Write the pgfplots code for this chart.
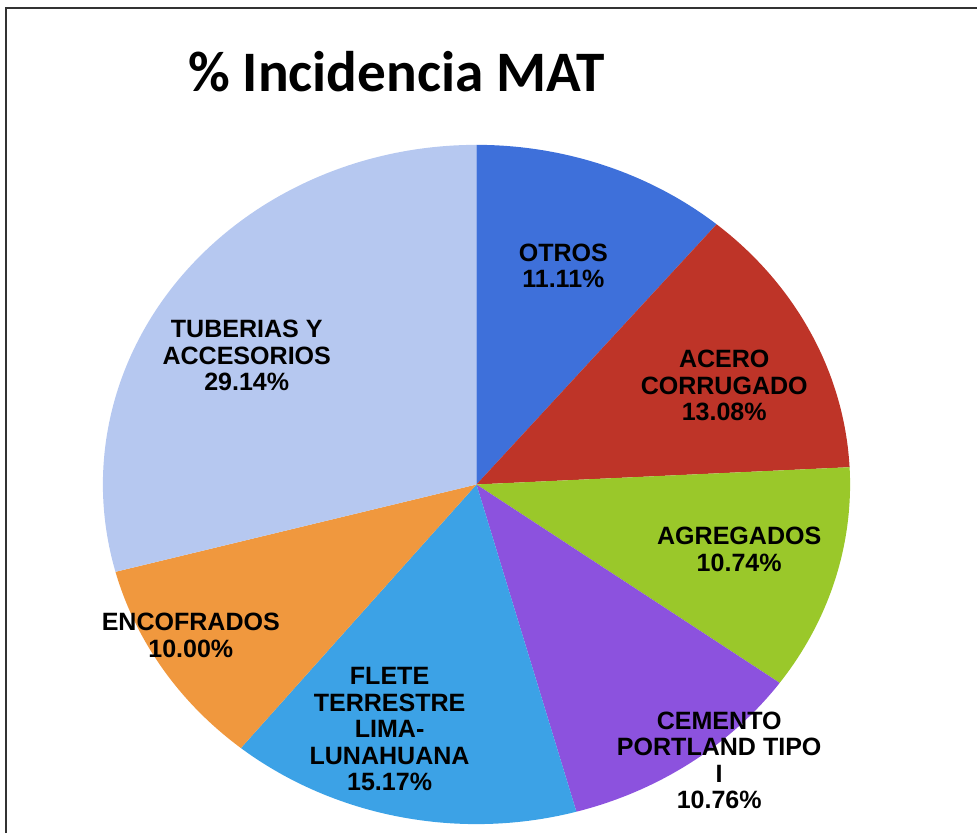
\documentclass[border=0pt]{standalone}
\usepackage{pgfplots}
\pgfplotsset{compat=1.18}
\usepackage{fontspec}
\setmainfont{Liberation Sans}
\newfontfamily\titlefont{Carlito}
\definecolor{cOtros}{RGB}{62,112,218}
\definecolor{cAcero}{RGB}{190,52,40}
\definecolor{cAgreg}{RGB}{154,200,42}
\definecolor{cCem}{RGB}{140,82,222}
\definecolor{cFlete}{RGB}{60,162,230}
\definecolor{cEnco}{RGB}{240,152,62}
\definecolor{cTub}{RGB}{182,200,240}
\definecolor{frame}{RGB}{50,50,50}
\tikzset{lbl/.style={font=\bfseries\fontsize{18.8}{19.9}\selectfont, align=center, inner sep=0pt, text=black}}
% percentages
\def\pOtros{11.11}
\def\pAcero{13.08}
\def\pAgreg{10.74}
\def\pCem{10.76}
\def\pFlete{15.17}
\def\pEnco{10.00}
\def\pTub{29.14}
\pgfmathsetmacro\aA{90}
\pgfmathsetmacro\aB{\aA-3.6*\pOtros}
\pgfmathsetmacro\aC{\aB-3.6*\pAcero}
\pgfmathsetmacro\aD{\aC-3.6*\pAgreg}
\pgfmathsetmacro\aE{\aD-3.6*\pCem}
\pgfmathsetmacro\aF{\aE-3.6*\pFlete}
\pgfmathsetmacro\aG{\aF-3.6*\pEnco}
\pgfmathsetmacro\aH{\aG-3.6*\pTub}
\begin{document}
\begin{tikzpicture}
\begin{axis}[
  scale only axis, width=733.5pt, height=625.5pt,
  xmin=0, xmax=978, ymin=0, ymax=834, y dir=reverse,
  hide axis, clip=false,
]
\path (rel axis cs:0,0) rectangle (rel axis cs:1,1);
\addplot[fill=cOtros, draw=none, domain=\aB:\aA, samples=60, variable=\t] ({477+374*cos(\t)},{485-340*sin(\t)}) -- (axis cs:477,485) -- cycle;
\addplot[fill=cAcero, draw=none, domain=\aC:\aB, samples=60, variable=\t] ({477+374*cos(\t)},{485-340*sin(\t)}) -- (axis cs:477,485) -- cycle;
\addplot[fill=cAgreg, draw=none, domain=\aD:\aC, samples=60, variable=\t] ({477+374*cos(\t)},{485-340*sin(\t)}) -- (axis cs:477,485) -- cycle;
\addplot[fill=cCem, draw=none, domain=\aE:\aD, samples=60, variable=\t] ({477+374*cos(\t)},{485-340*sin(\t)}) -- (axis cs:477,485) -- cycle;
\addplot[fill=cFlete, draw=none, domain=\aF:\aE, samples=60, variable=\t] ({477+374*cos(\t)},{485-340*sin(\t)}) -- (axis cs:477,485) -- cycle;
\addplot[fill=cEnco, draw=none, domain=\aG:\aF, samples=60, variable=\t] ({477+374*cos(\t)},{485-340*sin(\t)}) -- (axis cs:477,485) -- cycle;
\addplot[fill=cTub, draw=none, domain=\aH:\aG, samples=100, variable=\t] ({477+374*cos(\t)},{485-340*sin(\t)}) -- (axis cs:477,485) -- cycle;
% frame
\draw[frame, line width=1.6pt] (axis cs:6,834) -- (axis cs:6,8) -- (axis cs:978,8);
% title
\node[font=\titlefont\bfseries\fontsize{43}{48}\selectfont, inner sep=0pt, anchor=base] at (axis cs:397,92) {\% Incidencia MAT};
% labels
\node[lbl] at (axis cs:564,266) {OTROS\\\pOtros\%};
\node[lbl] at (axis cs:725,386) {ACERO\\CORRUGADO\\\pAcero\%};
\node[lbl] at (axis cs:740,550) {AGREGADOS\\\pAgreg\%};
\node[lbl] at (axis cs:720,761) {CEMENTO\\PORTLAND TIPO\\I\\\pCem\%};
\node[lbl] at (axis cs:390,730) {FLETE\\TERRESTRE\\LIMA-\\LUNAHUANA\\\pFlete\%};
\node[lbl] at (axis cs:191,636) {ENCOFRADOS\\\pEnco\%};
\node[lbl] at (axis cs:247,356) {TUBERIAS Y\\ACCESORIOS\\\pTub\%};
\end{axis}
\end{tikzpicture}
\end{document}
